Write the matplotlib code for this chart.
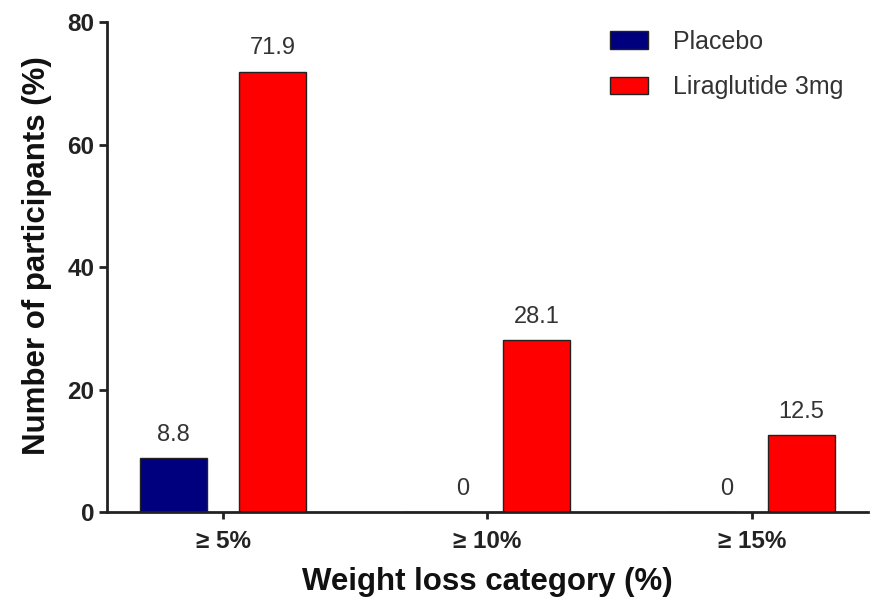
import numpy as np
import matplotlib
matplotlib.use('Agg')
import matplotlib.pyplot as plt

# 데이터
categories = ['≥ 5%', '≥ 10%', '≥ 15%']
placebo = [8.8, 0, 0]
liraglutide = [71.9, 28.1, 12.5]
placebo_labels = ['8.8', '0', '0']
lira_labels = ['71.9', '28.1', '12.5']
y_ticks = [0, 20, 40, 60, 80]

plt.rcParams['font.family'] = ['Liberation Sans', 'DejaVu Sans']

fig = plt.figure(figsize=(8.72, 6.03), dpi=100)
ax = fig.add_axes([0.1227, 0.1509, 0.8727, 0.8126])

x = np.arange(len(categories))
off = 0.187
w = 0.253

ax.bar(x - off, placebo, w, color='#00007f', edgecolor='#222222', linewidth=1, label='Placebo')
ax.bar(x + off, liraglutide, w, color='#ff0000', edgecolor='#222222', linewidth=1, label='Liraglutide 3mg')

# 값 라벨
for i in range(len(categories)):
    px = x[i] - off if placebo[i] > 0 else x[i] - 0.095
    ax.text(px, placebo[i] + 2.0, placebo_labels[i], ha='center', va='bottom',
            fontsize=17, color='#333333')
    ax.text(x[i] + off, liraglutide[i] + 2.0, lira_labels[i], ha='center', va='bottom',
            fontsize=17, color='#333333')

ax.set_xlim(-0.44, 2.44)
ax.set_ylim(0, 80)
ax.set_yticks(y_ticks)
ax.set_xticks(x)
ax.set_xticklabels(categories)

for s in ['top', 'right']:
    ax.spines[s].set_visible(False)
for s in ['left', 'bottom']:
    ax.spines[s].set_linewidth(2)
    ax.spines[s].set_color('#222222')

ax.tick_params(axis='y', length=6, width=2, color='#222222', labelsize=17.5, pad=3)
ax.tick_params(axis='x', length=5, width=2, color='#222222', labelsize=17.5, pad=8)
for lab in ax.get_xticklabels() + ax.get_yticklabels():
    lab.set_fontweight('bold')
    lab.set_color('#222222')

ax.set_xlabel('Weight loss category (%)', fontsize=22.5, fontweight='bold', color='#111111', labelpad=10)
ax.set_ylabel('Number of participants (%)', fontsize=22.5, fontweight='bold', color='#111111')
ax.yaxis.set_label_coords(-0.072, 0.524)

ax.legend(loc='upper left', bbox_to_anchor=(0.632, 1.03), frameon=False, fontsize=18,
          handlelength=1.5, handleheight=0.7, handletextpad=1.0, labelspacing=0.85,
          labelcolor='#333333')

plt.savefig('out.png', dpi=100)
